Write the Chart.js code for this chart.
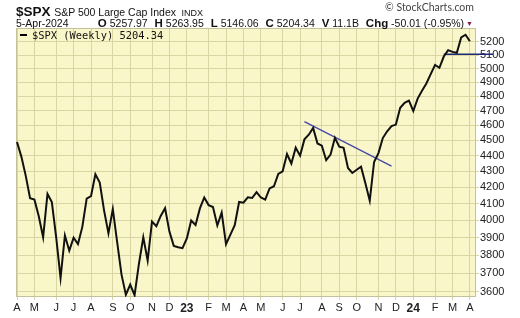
<!DOCTYPE html>
<html>
<head>
<meta charset="utf-8">
<script src="https://cdn.jsdelivr.net/npm/chart.js@4.4.1/dist/chart.umd.min.js"></script>
<style>
    body { margin: 0; background: #fff; width: 520px; height: 318px; overflow: hidden; position: relative; font-family: Arial, "Liberation Sans", sans-serif; }
    #chart { position: absolute; left: 0; top: 0; }
    .txt { position: absolute; white-space: nowrap; color: #111; }
    #title { left: 16px; top: 5px; font-size: 13px; line-height: 14px; }
    #title b { font-size: 13.5px; }
    #title .name { font-size: 10.5px; }
    #title .exch { font-size: 9px; margin-left: 2px; }
    #copy { left: 385px; top: 1px; font-family: Lato, sans-serif; font-size: 10.5px; color: #444; }
    #date { left: 16px; top: 17px; font-size: 10.5px; line-height: 12px; }
    #quote { right: 47px; top: 17px; font-size: 10.5px; line-height: 12px; }
    #quote b { font-size: 11.5px; margin-left: 4px; }
    #quote .tri { font-size: 7px; color: #8a1c4c; margin-left: 2px; position: relative; top: -1px; }
    #legend { left: 20px; top: 29px; font-family: "DejaVu Sans Mono", monospace; font-size: 10.4px; line-height: 12px; }
    #legend .dash { display: inline-block; width: 7px; height: 2px; background: #000; vertical-align: middle; margin-right: 5px; position: relative; top: -1px; }
</style>
</head>
<body>
<canvas id="chart" width="520" height="318"></canvas>
<div class="txt" id="title"><b>$SPX</b> <span class="name">S&amp;P 500 Large Cap Index</span> <span class="exch">INDX</span></div>
<div class="txt" id="copy">© StockCharts.com</div>
<div class="txt" id="date">5-Apr-2024</div>
<div class="txt" id="quote"><b>O</b> 5257.97 <b>H</b> 5263.95 <b>L</b> 5146.06 <b>C</b> 5204.34 <b>V</b> 11.1B <b>Chg</b> -50.01 (-0.95%)<span class="tri">▼</span></div>
<div class="txt" id="legend"><span class="dash"></span>$SPX (Weekly) 5204.34</div>
<script>
// Cierres semanales del S&P 500
const weekDates = [
    '2022-04-08','2022-04-14','2022-04-22','2022-04-29','2022-05-06','2022-05-13','2022-05-20','2022-05-27',
    '2022-06-03','2022-06-10','2022-06-17','2022-06-24','2022-07-01','2022-07-08','2022-07-15','2022-07-22',
    '2022-07-29','2022-08-05','2022-08-12','2022-08-19','2022-08-26','2022-09-02','2022-09-09','2022-09-16',
    '2022-09-23','2022-09-30','2022-10-07','2022-10-14','2022-10-21','2022-10-28','2022-11-04','2022-11-11',
    '2022-11-18','2022-11-25','2022-12-02','2022-12-09','2022-12-16','2022-12-23','2022-12-30',
    '2023-01-06','2023-01-13','2023-01-20','2023-01-27','2023-02-03','2023-02-10','2023-02-17','2023-02-24',
    '2023-03-03','2023-03-10','2023-03-17','2023-03-24','2023-03-31','2023-04-06','2023-04-14','2023-04-21',
    '2023-04-28','2023-05-05','2023-05-12','2023-05-19','2023-05-26','2023-06-02','2023-06-09','2023-06-16',
    '2023-06-23','2023-06-30','2023-07-07','2023-07-14','2023-07-21','2023-07-28','2023-08-04','2023-08-11',
    '2023-08-18','2023-08-25','2023-09-01','2023-09-08','2023-09-15','2023-09-22','2023-09-29','2023-10-06',
    '2023-10-13','2023-10-20','2023-10-27','2023-11-03','2023-11-10','2023-11-17','2023-11-24','2023-12-01',
    '2023-12-08','2023-12-15','2023-12-22','2023-12-29',
    '2024-01-05','2024-01-12','2024-01-19','2024-01-26','2024-02-02','2024-02-09','2024-02-16','2024-02-23',
    '2024-03-01','2024-03-08','2024-03-15','2024-03-22','2024-03-28','2024-04-05'
];
const closes = [
    4488.28, 4392.59, 4271.78, 4131.93, 4123.34, 4023.89, 3901.36, 4158.24,
    4108.54, 3900.86, 3674.84, 3911.74, 3825.33, 3899.38, 3863.16, 3961.63,
    4130.29, 4145.19, 4280.15, 4228.48, 4057.66, 3924.26, 4067.36, 3873.33,
    3693.23, 3585.62, 3639.66, 3583.07, 3752.75, 3901.06, 3770.55, 3992.93,
    3965.34, 4026.12, 4071.70, 3934.38, 3852.36, 3844.82, 3839.50,
    3895.08, 3999.09, 3972.61, 4070.56, 4136.48, 4090.46, 4079.09, 3970.04,
    4045.64, 3861.59, 3916.64, 3970.99, 4109.31, 4105.02, 4137.64, 4133.52,
    4169.48, 4136.25, 4124.08, 4191.98, 4205.45, 4282.37, 4298.86, 4409.59,
    4348.33, 4450.38, 4398.95, 4505.42, 4536.34, 4582.23, 4478.03, 4464.05,
    4369.71, 4405.71, 4515.77, 4457.49, 4450.32, 4320.06, 4288.05, 4308.50,
    4327.78, 4224.16, 4117.37, 4358.34, 4415.24, 4514.02, 4559.34, 4594.63,
    4604.37, 4719.19, 4754.63, 4769.83,
    4697.24, 4783.83, 4839.81, 4890.97, 4958.61, 5026.61, 5005.57, 5088.80,
    5137.08, 5123.69, 5117.09, 5234.18, 5254.35, 5204.34
];

// Líneas dibujadas (posición en semanas, valor)
const trendX = [66, 86];
const trendY = [4625, 4332];
const levelX = [98, 109.3];
const levelY = [5106, 5106];

// Etiquetas del eje
const yTickValues = [3600, 3700, 3800, 3900, 4000, 4100, 4200, 4300, 4400, 4500, 4600, 4700, 4800, 4900, 5000, 5100, 5200];
const monthLetters = ['J', 'F', 'M', 'A', 'M', 'J', 'J', 'A', 'S', 'O', 'N', 'D'];

// Lunes de cada semana -> la semana cuyo lunes cae en un mes nuevo lleva la marca
function weekMonday(s) {
    const d = new Date(s + 'T00:00:00Z');
    d.setUTCDate(d.getUTCDate() - (d.getUTCDay() - 1));
    return d;
}
const monthTicks = [];
weekDates.forEach(function(s, i) {
    const m = weekMonday(s);
    const prev = i > 0 ? weekMonday(weekDates[i - 1]) : null;
    if (!prev || prev.getUTCMonth() !== m.getUTCMonth()) {
        monthTicks.push({ index: i, month: m.getUTCMonth(), year: m.getUTCFullYear() });
    }
});
function tickInfo(v) {
    return monthTicks.find(t => t.index === v);
}

const gridColor = '#d9d6a4';
const plotBg = '#f9f7c9';

const areaPlugin = {
    id: 'area',
    beforeDraw(chart) {
        const a = chart.chartArea;
        const ctx = chart.ctx;
        ctx.save();
        ctx.fillStyle = plotBg;
        ctx.fillRect(a.left, a.top, a.right - a.left, a.bottom - a.top);
        ctx.restore();
    },
    beforeDatasetsDraw(chart) {
        const a = chart.chartArea;
        const ctx = chart.ctx;
        ctx.save();
        ctx.strokeStyle = '#c4c29a';
        ctx.lineWidth = 1;
        ctx.strokeRect(a.left + 0.5, a.top + 0.5, a.right - a.left - 1, a.bottom - a.top - 1);
        ctx.restore();
    }
};

new Chart(document.getElementById('chart'), {
    type: 'line',
    data: {
        datasets: [
            {
                label: '$SPX (Weekly)',
                data: closes.map((c, i) => ({ x: i, y: c })),
                borderColor: '#111',
                borderWidth: 2,
                pointRadius: 0,
                tension: 0
            },
            {
                label: 'Tendencia',
                data: trendX.map((x, i) => ({ x: x, y: trendY[i] })),
                borderColor: '#4646a8',
                borderWidth: 1.3,
                pointRadius: 0
            },
            {
                label: 'Nivel',
                data: levelX.map((x, i) => ({ x: x, y: levelY[i] })),
                borderColor: '#1e2a78',
                borderWidth: 1.3,
                pointRadius: 0,
                clip: false
            }
        ]
    },
    options: {
        responsive: false,
        animation: false,
        layout: { padding: { top: 28, left: 16, right: 0, bottom: 0 } },
        plugins: {
            legend: { display: false },
            tooltip: { enabled: false }
        },
        scales: {
            x: {
                type: 'linear',
                min: -0.23,
                max: 105.4,
                afterBuildTicks: function(scale) {
                    scale.ticks = monthTicks.map(t => ({ value: t.index }));
                },
                afterFit: function(scale) { scale.height = 21; },
                ticks: {
                    autoSkip: false,
                    maxRotation: 0,
                    padding: 1,
                    color: '#222',
                    font: function(ctx) {
                        const t = ctx.tick ? tickInfo(ctx.tick.value) : null;
                        const bold = t && t.month === 0;
                        return { family: 'Arial', size: bold ? 12 : 11, weight: bold ? 'bold' : 'normal' };
                    },
                    callback: function(value) {
                        const t = tickInfo(value);
                        if (!t) return '';
                        return t.month === 0 ? String(t.year).slice(2) : monthLetters[t.month];
                    }
                },
                grid: { color: gridColor, tickLength: 3 },
                border: { display: false }
            },
            y: {
                type: 'logarithmic',
                position: 'right',
                min: 3573.6,
                max: 5306.8,
                afterBuildTicks: function(scale) {
                    scale.ticks = yTickValues.map(v => ({ value: v }));
                },
                afterFit: function(scale) { scale.width = 44; },
                ticks: {
                    autoSkip: false,
                    padding: 1,
                    color: '#222',
                    font: { family: 'Arial', size: 11 },
                    callback: function(value) { return String(value); }
                },
                grid: { color: gridColor, tickLength: 3 },
                border: { display: false }
            }
        }
    },
    plugins: [areaPlugin]
});
</script>
</body>
</html>
